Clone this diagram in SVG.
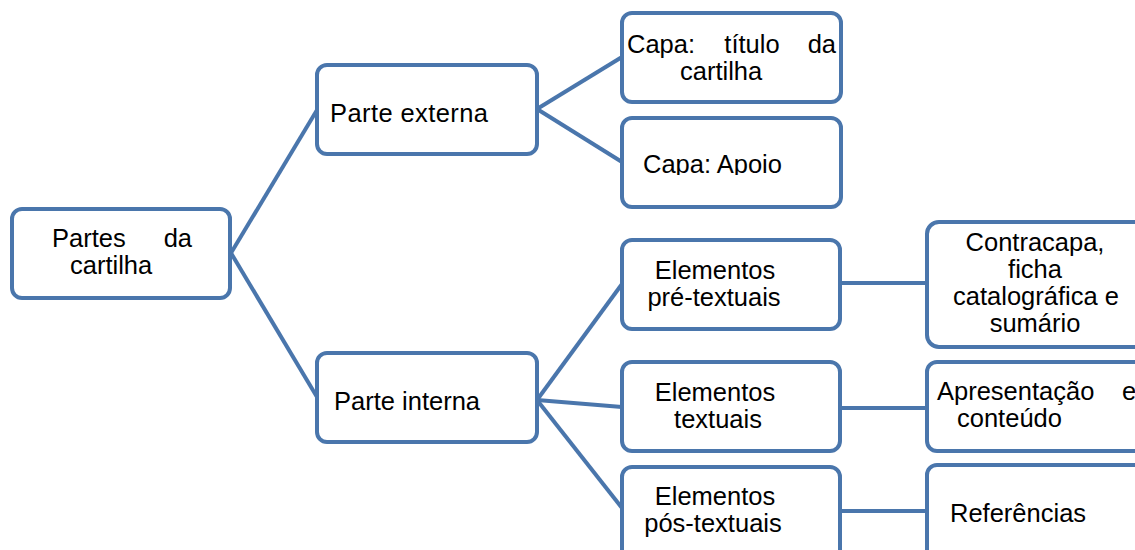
<svg xmlns="http://www.w3.org/2000/svg" width="1135" height="550" viewBox="0 0 1135 550">
<style>
.box{fill:#ffffff;stroke:#4a76ac;stroke-width:4}
.con{stroke:#4a76ac;stroke-width:4;fill:none}
text{font-family:"Liberation Sans",Arial,sans-serif;font-size:25.5px;fill:#000}
.m{text-anchor:middle}
.e{text-anchor:end}
</style>
<defs>
<clipPath id="clipApoio"><rect x="620" y="115" width="225" height="60"/></clipPath>
</defs>
<rect width="1135" height="550" fill="#ffffff"/>
<g id="connectors">
<line class="con" x1="231" y1="253" x2="317" y2="110"/>
<line class="con" x1="231" y1="253" x2="317" y2="397"/>
<line class="con" x1="537" y1="109" x2="622" y2="57"/>
<line class="con" x1="537" y1="109" x2="622" y2="162"/>
<line class="con" x1="537" y1="400" x2="622" y2="284"/>
<line class="con" x1="537" y1="400" x2="622" y2="407"/>
<line class="con" x1="537" y1="400" x2="622" y2="508"/>
<line class="con" x1="840" y1="283" x2="927" y2="283"/>
<line class="con" x1="840" y1="408" x2="927" y2="408"/>
<line class="con" x1="840" y1="511" x2="927" y2="511"/>
</g>
<g id="root">
<rect class="box" x="12" y="209" width="218" height="89" rx="10"/>
<text x="52" y="247">Partes</text><text class="e" x="192" y="247">da</text>
<text x="70" y="274">cartilha</text>
</g>
<g id="parte-externa">
<rect class="box" x="317" y="65" width="220" height="89" rx="10"/>
<text x="330" y="122" textLength="158">Parte externa</text>
</g>
<g id="parte-interna">
<rect class="box" x="317" y="353" width="220" height="89" rx="10"/>
<text x="334" y="410">Parte interna</text>
</g>
<g id="capa-titulo">
<rect class="box" x="622" y="13" width="219" height="89" rx="10"/>
<text x="627" y="53">Capa:</text><text class="m" x="752" y="53">título</text><text class="e" x="836" y="53">da</text>
<text x="680" y="80">cartilha</text>
</g>
<g id="capa-apoio">
<rect class="box" x="622" y="118" width="219" height="89" rx="10"/>
<text x="643" y="173" clip-path="url(#clipApoio)">Capa: Apoio</text>
</g>
<g id="pre-textuais">
<rect class="box" x="622" y="240" width="218" height="89" rx="10"/>
<text class="m" x="715" y="279">Elementos</text>
<text class="m" x="714" y="306">pré-textuais</text>
</g>
<g id="textuais">
<rect class="box" x="622" y="362" width="218" height="89" rx="10"/>
<text class="m" x="715" y="401">Elementos</text>
<text class="m" x="718" y="428">textuais</text>
</g>
<g id="pos-textuais">
<rect class="box" x="622" y="467" width="218" height="100" rx="10"/>
<text class="m" x="715" y="505">Elementos</text>
<text class="m" x="713" y="532">pós-textuais</text>
</g>
<g id="contracapa">
<rect class="box" x="927" y="222" width="220" height="125" rx="12"/>
<text class="m" x="1035" y="251">Contracapa,</text>
<text class="m" x="1035" y="278">ficha</text>
<text class="m" x="1036" y="305">catalográfica e</text>
<text class="m" x="1035" y="332">sumário</text>
</g>
<g id="apresentacao">
<rect class="box" x="927" y="362" width="220" height="89" rx="10"/>
<text x="937" y="400">Apresentação</text><text x="1122" y="400">e</text>
<text x="957" y="427">conteúdo</text>
</g>
<g id="referencias">
<rect class="box" x="927" y="465" width="220" height="100" rx="10"/>
<text x="950" y="522">Referências</text>
</g>
</svg>
